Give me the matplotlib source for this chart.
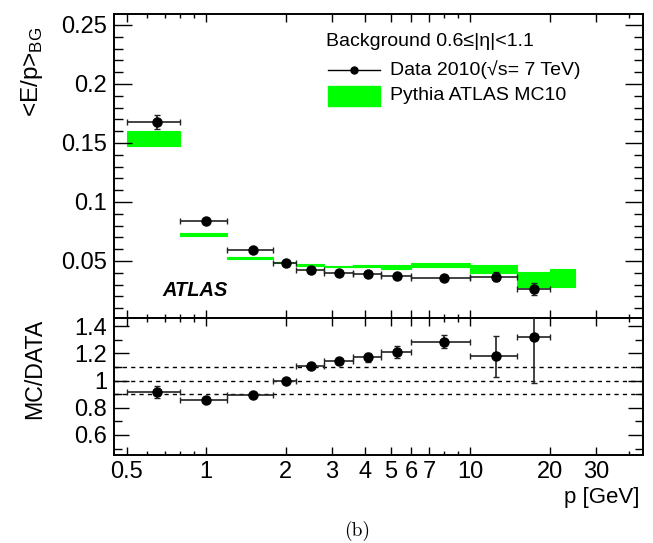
import matplotlib
matplotlib.use('Agg')
from matplotlib import pyplot as plt
from matplotlib.lines import Line2D
from matplotlib.patches import Rectangle
import matplotlib.ticker as mt
import numpy as np

plt.rcParams['font.family'] = ['Liberation Sans', 'DejaVu Sans']
plt.rcParams['mathtext.fontset'] = 'custom'
plt.rcParams['mathtext.rm'] = 'Liberation Sans'

# bin edges in p [GeV]
edges = [0.5, 0.8, 1.2, 1.8, 2.2, 2.8, 3.6, 4.6, 6, 10, 15, 20, 25]

# data <E/p>_BG (11 bins)
data = [0.1678, 0.0839, 0.0593, 0.0486, 0.0421, 0.0398, 0.0390, 0.0370, 0.0358, 0.0367, 0.0260]
data_err = [0.0057, 0.0010, 0.0008, 0.0008, 0.0008, 0.0008, 0.0008, 0.0008, 0.0008, 0.0036, 0.0051]

# MC band (12 bins)
mc_lo = [0.1477, 0.0712, 0.0521, 0.0481, 0.0460, 0.0447, 0.0447, 0.0432, 0.0452, 0.0401, 0.0282, 0.0282]
mc_hi = [0.1602, 0.0735, 0.0534, 0.0494, 0.0475, 0.0460, 0.0466, 0.0464, 0.0481, 0.0466, 0.0409, 0.0432]

# MC/DATA
ratio = [0.915, 0.858, 0.890, 1.000, 1.106, 1.140, 1.170, 1.211, 1.285, 1.179, 1.319]
ratio_err = [0.046, 0.010, 0.010, 0.010, 0.010, 0.015, 0.033, 0.043, 0.049, 0.150, 0.338]

edges = np.array(edges)
xc = (edges[:-1] + edges[1:]) / 2
nd = len(data)
xlo = xc[:nd] - edges[:nd]
xhi = edges[1:nd+1] - xc[:nd]

W, H = 653, 543
fig = plt.figure(figsize=(W/100, H/100), dpi=100)
L, R = 114, 643
ax = fig.add_axes([L/W, 1-318/H, (R-L)/W, (318-14)/H])
ax2 = fig.add_axes([L/W, 1-455/H, (R-L)/W, (455-318)/H], sharex=ax)

green = '#00ff00'
ax.bar(edges[:-1], np.array(mc_hi)-np.array(mc_lo), width=np.diff(edges), bottom=mc_lo,
       align='edge', color=green, edgecolor=green, lw=0.8, zorder=1)
ax.errorbar(xc[:nd], data, yerr=data_err, xerr=[xlo, xhi], fmt='o', color='black',
            ms=6.5, elinewidth=1.2, capsize=2, capthick=1, ecolor='#222222', zorder=3)

for v in [0.9, 1.0, 1.1]:
    ax2.axhline(v, color='black', ls=(0, (3, 3)), lw=1, zorder=1)
ax2.errorbar(xc[:nd], ratio, yerr=ratio_err, xerr=[xlo, xhi], fmt='o', color='black',
             ms=6.5, elinewidth=1.2, capsize=2, capthick=1, ecolor='#222222', zorder=3)

ax.set_xscale('log')
ax.set_xlim(0.448, 45.2)
ax.set_ylim(0.0017, 0.2593)
ax2.set_ylim(0.453, 1.459)

xt = [0.5, 1, 2, 3, 4, 5, 6, 7, 10, 20, 30]
ax2.xaxis.set_major_locator(mt.FixedLocator(xt))
ax2.xaxis.set_major_formatter(mt.FixedFormatter([str(t) for t in xt]))
ax2.xaxis.set_minor_locator(mt.FixedLocator([0.6, 0.7, 0.8, 0.9, 8, 9, 40]))
ax2.xaxis.set_minor_formatter(mt.NullFormatter())

ax.yaxis.set_major_locator(mt.MultipleLocator(0.05))
ax.yaxis.set_minor_locator(mt.MultipleLocator(0.01))
ax.yaxis.set_major_formatter(mt.FuncFormatter(lambda v, p: ('%g' % round(v, 3)) if v > 0.01 else ''))
ax2.yaxis.set_major_locator(mt.FixedLocator([0.6, 0.8, 1.0, 1.2, 1.4]))
ax2.yaxis.set_major_formatter(mt.FixedFormatter(['0.6', '0.8', '1', '1.2', '1.4']))
ax2.yaxis.set_minor_locator(mt.MultipleLocator(0.1))

for a in (ax, ax2):
    for s in a.spines.values():
        s.set_linewidth(1.4)
    a.tick_params(which='both', direction='in', top=True, right=True, labelsize=17, width=1)
    a.tick_params(axis='x', which='major', length=6, pad=4)
    a.tick_params(axis='x', which='minor', length=3)
ax.tick_params(axis='y', which='major', length=13, pad=5)
ax.tick_params(axis='y', which='minor', length=6.5)
ax2.tick_params(axis='y', which='major', length=11, pad=5)
ax2.tick_params(axis='y', which='minor', length=6)
ax.tick_params(axis='x', which='both', labelbottom=False)

fig.text(32/W, 1-72/H, r'<E/p>$_{\mathrm{BG}}$', rotation=90, ha='center', va='center', fontsize=17.5)
fig.text(35/W, 1-369/H, 'MC/DATA', rotation=90, ha='center', va='center', fontsize=16.7)
fig.text(640/W, 1-497/H, 'p [GeV]', ha='right', va='center', fontsize=16)
fig.text(357/W, 1-531/H, '(b)', ha='center', va='center', fontsize=14, family='cmr10')
fig.text(162/W, 1-291/H, 'ATLAS', ha='left', va='center', fontsize=14.4, weight='bold', style='italic')

# legend
fig.text(326/W, 1-42/H, 'Background 0.6≤|η|<1.1', ha='left', va='center', fontsize=14)
fig.add_artist(Line2D([328/W, 380/W], [1-70/H, 1-70/H], color='black', lw=1,
                      transform=fig.transFigure))
fig.add_artist(Line2D([354/W], [1-70/H], color='black', marker='o', ms=5, transform=fig.transFigure))
fig.text(390/W, 1-70/H, 'Data 2010(√s= 7 TeV)', ha='left', va='center', fontsize=14)
fig.add_artist(Rectangle((328/W, 1-106/H), 52/W, 20/H, color=green, transform=fig.transFigure))
fig.text(390/W, 1-96/H, 'Pythia ATLAS MC10', ha='left', va='center', fontsize=14)

fig.savefig('out.png', dpi=100)
